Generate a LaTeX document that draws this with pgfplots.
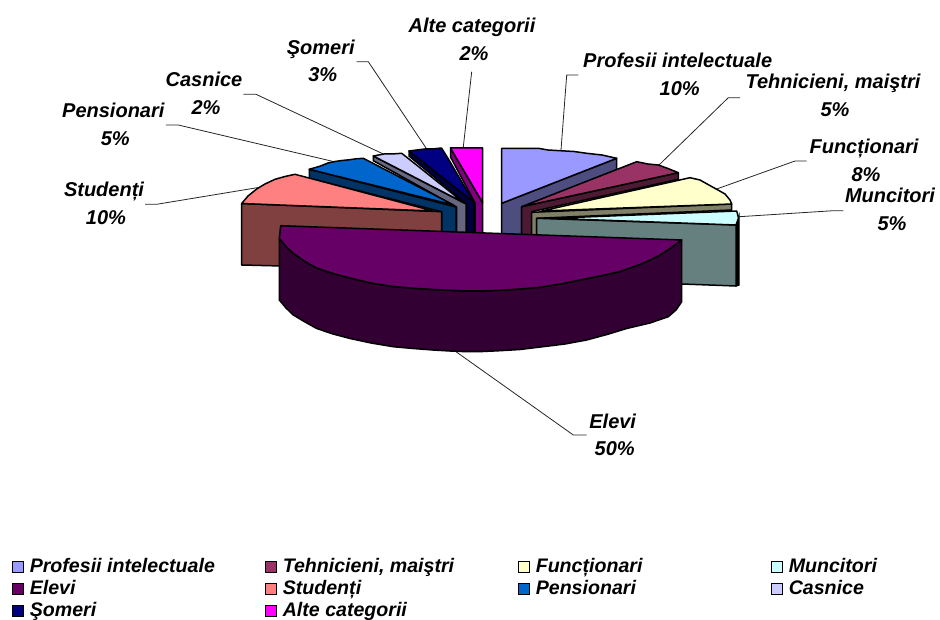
\documentclass[border=0pt]{standalone}
\usepackage{fontspec}
\setmainfont{Liberation Sans}
\usepackage{pgfplots}
\pgfplotsset{compat=1.18}
\definecolor{cProf}{HTML}{9999FF}\definecolor{sProf}{HTML}{4D4D80}
\definecolor{cTeh}{HTML}{993366}\definecolor{sTeh}{HTML}{4D1A33}
\definecolor{cFun}{HTML}{FFFFCC}\definecolor{sFun}{HTML}{808066}
\definecolor{cMun}{HTML}{CCFFFF}\definecolor{sMun}{HTML}{668080}
\definecolor{cEle}{HTML}{660066}\definecolor{sEle}{HTML}{330033}
\definecolor{cStu}{HTML}{FF8080}\definecolor{sStu}{HTML}{804040}
\definecolor{cPen}{HTML}{0066CC}\definecolor{sPen}{HTML}{003366}
\definecolor{cCas}{HTML}{CCCCFF}\definecolor{sCas}{HTML}{666680}
\definecolor{cSom}{HTML}{000080}\definecolor{sSom}{HTML}{000040}
\definecolor{cAlt}{HTML}{FF00FF}\definecolor{sAlt}{HTML}{800080}
\pgfplotsset{
  slice/.style={draw=black,line width=1.5pt,line join=round,fill=#1,forget plot},
  leader/.style={draw=black!85,line width=0.8pt,forget plot},
}
\newcommand{\lab}[4]{\node[anchor=base,font=\fontsize{20}{22}\selectfont\bfseries\itshape,inner sep=0pt] at (axis cs:#1,#2+1) {#3};\node[anchor=base,font=\fontsize{20}{22}\selectfont\bfseries\itshape,inner sep=0pt] at (axis cs:#1+2,#2+28.5) {#4};}
\newcommand{\leg}[1]{\makebox[229.2pt][l]{#1}}
\begin{document}
\begin{tikzpicture}
\useasboundingbox (0,0) rectangle (940pt,620pt);
\begin{axis}[
  scale only axis,width=940pt,height=620pt,
  xmin=0,xmax=940,ymin=0,ymax=620,y dir=reverse,
  hide axis,clip=false,
  legend columns=4,
  legend cell align=left,
  legend style={at={(axis cs:12,557.5)},anchor=north west,draw=none,fill=none,inner sep=0pt,outer sep=0pt,
    font=\fontsize{19.6}{22}\selectfont\bfseries\itshape,
    nodes={inner sep=0pt,text height=15pt,text depth=4pt},
    /tikz/column sep=6pt,/tikz/row sep=3pt},
  legend image code/.code={\draw[#1,draw=black,line width=0.8pt] (0pt,-5.5pt) rectangle (11pt,5.5pt);},
]
\addlegendimage{fill=cProf}\addlegendentry{\leg{Profesii intelectuale}}
\addlegendimage{fill=cTeh}\addlegendentry{\leg{Tehnicieni, maiştri}}
\addlegendimage{fill=cFun}\addlegendentry{\leg{Funcționari}}
\addlegendimage{fill=cMun}\addlegendentry{\leg{Muncitori}}
\addlegendimage{fill=cEle}\addlegendentry{\leg{Elevi}}
\addlegendimage{fill=cStu}\addlegendentry{\leg{Studenți}}
\addlegendimage{fill=cPen}\addlegendentry{\leg{Pensionari}}
\addlegendimage{fill=cCas}\addlegendentry{\leg{Casnice}}
\addlegendimage{fill=cSom}\addlegendentry{\leg{Şomeri}}
\addlegendimage{fill=cAlt}\addlegendentry{\leg{Alte categorii}}

% leaders
\addplot[leader] coordinates {(471.7,71.7)(463.3,147)};
\addplot[leader] coordinates {(356.7,61.7)(368.3,61.7)(426.7,149)};
\addplot[leader] coordinates {(243.3,94.3)(256,94.3)(383.3,154)};
\addplot[leader] coordinates {(166,125)(178.3,125)(333.3,161.5)};
\addplot[leader] coordinates {(145,204.3)(156.7,204.3)(263.3,186.7)};
\addplot[leader] coordinates {(578.3,75)(566.7,75)(561,150)};
\addplot[leader] coordinates {(740,97.7)(728.3,97.7)(658.3,165.7)};
\addplot[leader] coordinates {(806.7,161)(795,161)(716.7,189)};
\addplot[leader] coordinates {(843.3,210.7)(833.3,210.7)(739.3,216.7)};
\addplot[leader] coordinates {(586.7,435)(573.3,435)(455,351)};

% Alte categorii
\addplot[slice=sAlt] coordinates {(450.5,148)(482.5,202.5)(482.5,240)(475,240)(475,203)(450.5,157)} -- cycle;
\addplot[slice=cAlt] coordinates {(450.5,148)(482.5,148)(482.5,202.5)} -- cycle;
% Someri
\addplot[slice=sSom] coordinates {(409,151)(474,202)(474,240)(466.5,240)(466.5,204)(409,156)} -- cycle;
\addplot[slice=cSom] coordinates {(409,151)(425,149)(432,149)(441.5,148)(449,160)(473.5,202)} -- cycle;
% Casnice
\addplot[slice=sCas] coordinates {(373.3,156)(466,204)(466,240)(456.5,240)(456.5,207)(373.3,160.7)} -- cycle;
\addplot[slice=cCas] coordinates {(373.3,156)(385,153.8)(392,154)(401.7,153.3)(414,163)(463.5,202.5)} -- cycle;
% Pensionari
\addplot[slice=sPen] coordinates {(309.3,169.3)(456,207)(456,240)(441.5,240)(441.5,211.7)(309.3,178.3)} -- cycle;
\addplot[slice=cPen] coordinates {(309.3,169.3)(320,166.2)(328,163)(335,161.5)(342,160.5)(349,159.8)(356,158.8)(363.3,158.3)(453.5,205)} -- cycle;
% Studenti
\addplot[slice=sStu] coordinates {(241.7,203.5)(441.5,211.7)(441.5,270)(241.7,265)} -- cycle;
\addplot[slice=cStu] coordinates {(241.7,203.5)(248,196)(256.7,189)(265,184)(275,179.3)(285,176.5)(295,174.3)(433.3,211)} -- cycle;
% Profesii
\addplot[slice=sProf] coordinates {(501.7,203.3)(616.7,158.3)(616.7,170)(521.7,207)(521.7,240)(501.7,240)} -- cycle;
\addplot[slice=cProf] coordinates {(501.7,148.3)(538.3,148.3)(548,150)(560,150.7)(574,151.5)(586.7,153.3)(602,155)(616.7,158.3)(501.7,203.3)} -- cycle;
% Tehnicieni
\addplot[slice=sTeh] coordinates {(521.7,206.7)(678.3,172.7)(678.3,179.3)(531.7,211.7)(531.7,240)(521.7,240)} -- cycle;
\addplot[slice=cTeh] coordinates {(521.7,206.7)(636.7,161.7)(648,164)(658.3,165)(668,168.5)(678.3,172.7)} -- cycle;
% Functionari
\addplot[slice=sFun] coordinates {(531.7,212.3)(731.7,204)(731.7,210)(536.7,218.3)(536.7,240)(531.7,240)} -- cycle;
\addplot[slice=cFun] coordinates {(541.7,211)(690,177.7)(700,180)(708,184.5)(716.7,189.3)(725,194)(730,200)(731.7,204)} -- cycle;
% Muncitori
\addplot[draw=black,line width=1.3pt,fill=black,forget plot] coordinates {(736,225)(739,216)(739,285)(736,286)} -- cycle;
\addplot[slice=sMun] coordinates {(536.7,218.3)(736,225)(736,286)(681.7,284)(536.7,280)} -- cycle;
\addplot[slice=cMun] coordinates {(551.7,218.3)(736.7,211)(738.5,218)(736,225)} -- cycle;
% Elevi
\addplot[slice=sEle] coordinates {(279.3,238.3)(286,246.5)(293.3,253.3)(305,261.5)(316.7,268)(333,273.5)(350,278)(371,283)(393,286.5)(413,288.2)(433,289.5)(450,290.3)(466.7,291)(483,290.8)(500,290.3)(520,289)(540,287.3)(560,284)(580,280)(600,276)(620,271.5)(640,264.5)(650,260)(660,255)(670,248.5)(681.7,240)(681.7,301.7)(676,310)(668.3,316.7)(650,323)(626.7,328.5)(607,334.5)(586.7,340)(565,344)(543,346.7)(520,349.5)(500,350.7)(483,351.5)(466.7,351.7)(450,351)(433,350)(413,348.5)(393,346.7)(371,343)(350,338.5)(333,334)(316.7,328.5)(305,322)(293.3,315)(286,308)(279.3,300)} -- cycle;
\addplot[slice=cEle] coordinates {(280.7,225.7)(681.7,240)(670,248.5)(660,255)(650,260)(640,264.5)(620,271.5)(600,276)(580,280)(560,284)(540,287.3)(520,289)(500,290.3)(483,290.8)(466.7,291)(450,290.3)(433,289.5)(413,288.2)(393,286.5)(371,283)(350,278)(333,273.5)(316.7,268)(305,261.5)(293.3,253.3)(286,246.5)(279.3,238.3)} -- cycle;

\lab{472}{32}{Alte categorii}{2\%}
\lab{320.7}{53.3}{Şomeri}{3\%}
\lab{204}{86}{Casnice}{2\%}
\lab{113.3}{116.7}{Pensionari}{5\%}
\lab{104}{195.7}{Studenți}{10\%}
\lab{677.7}{66.7}{Profesii intelectuale}{10\%}
\lab{833}{88}{Tehnicieni, maiştri}{5\%}
\lab{864}{152.7}{Funcționari}{8\%}
\lab{890}{201.7}{Muncitori}{5\%}
\lab{612.7}{427}{Elevi}{50\%}
\end{axis}
\end{tikzpicture}
\end{document}
